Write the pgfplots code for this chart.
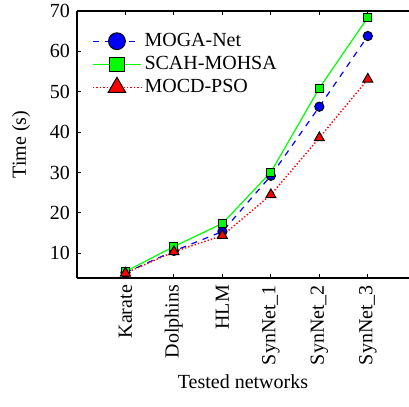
\documentclass[border=0pt]{standalone}
\usepackage{pgfplots}
\pgfplotsset{compat=1.18}
\usepackage{fontspec}
\setmainfont{Liberation Serif}
\begin{document}
\fontsize{10}{12}\selectfont
\begin{tikzpicture}
\begin{axis}[
  scale only axis,
  width=166pt, height=133.5pt,
  xmin=0, xmax=6.85,
  ymin=3.9, ymax=70,
  axis y line*=left,
  axis x line*=box,
  tick align=inside,
  major tick length=2.2pt,
  xtick={1,2,3,4,5,6},
  xticklabels={Karate,Dolphins,HLM,SynNet\_1,SynNet\_2,SynNet\_3},
  xticklabel style={rotate=90, anchor=east, font=\fontsize{10}{12}\selectfont},
  ytick={10,20,30,40,50,60,70},
  yticklabel style={font=\fontsize{10}{12}\selectfont},
  /pgf/number format/assume math mode=true,
  xlabel={Tested networks},
  ylabel={Time (s)},
  label style={font=\fontsize{10}{12}\selectfont},
  xlabel style={yshift=2pt},
  ylabel style={yshift=3pt},
  axis line style={line width=0.6pt},
  every tick/.style={black, line width=0.5pt},
  legend style={draw=none, fill=none, at={(0.045,0.93)}, anchor=north west, inner sep=0pt, row sep=0.4pt, font=\fontsize{10}{12}\selectfont, nodes={inner sep=1.5pt}},
  legend cell align=left,
  legend image code/.code={\draw[mark repeat=2,mark phase=2] plot coordinates {(0cm,0cm) (0.42cm,0cm) (0.84cm,0cm)};},
  clip=false,
]
\coordinate (o) at (rel axis cs:0,0);
\addplot[blue, dashed, line width=0.6pt, mark=*, mark size=2.3pt, mark options={solid, fill=blue, draw=black, line width=0.5pt}, legend image post style={mark size=4.2pt}]
 coordinates {(1,5.2) (2,10.6) (3,15.4) (4,29.2) (5,46.3) (6,63.8)};
\addlegendentry{MOGA-Net}
\addplot[green, solid, line width=0.6pt, mark=square*, mark size=2.0pt, mark options={solid, fill=green, draw=black, line width=0.5pt}, legend image post style={mark size=3.6pt}]
 coordinates {(1,5.5) (2,11.7) (3,17.4) (4,30.1) (5,50.9) (6,68.4)};
\addlegendentry{SCAH-MOHSA}
\addplot[red, densely dotted, line width=0.7pt, mark=triangle*, mark size=2.9pt, mark options={solid, fill=red, draw=black, line width=0.5pt}, legend image post style={mark size=5pt}]
 coordinates {(1,5.1) (2,10.4) (3,14.4) (4,24.5) (5,38.6) (6,53.1)};
\addlegendentry{MOCD-PSO}
\end{axis}
\pgfresetboundingbox
\path ([xshift=-38.5pt,yshift=-64.5pt]o) rectangle ++(204.5pt,203.5pt);
\end{tikzpicture}
\end{document}
